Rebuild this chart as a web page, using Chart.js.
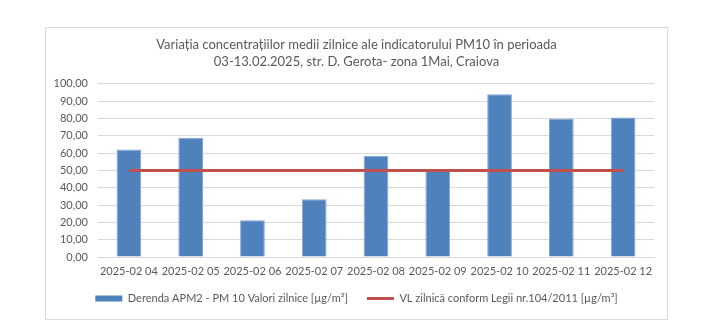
<!DOCTYPE html>
<html>
<head>
<meta charset="utf-8">
<script src="https://cdn.jsdelivr.net/npm/chart.js@4"></script>
<style>
    body { margin: 0; background: #fff; }
    #box {
        position: absolute;
        left: 45px; top: 27px;
        width: 621px; height: 291px;
        border: 1px solid #d9d9d9;
    }
</style>
</head>
<body>
<div id="box"><canvas id="pmChart"></canvas></div>
<script>
// Zilele perioadei de monitorizare
const zile = ['2025-02 04', '2025-02 05', '2025-02 06', '2025-02 07', '2025-02 08',
              '2025-02 09', '2025-02 10', '2025-02 11', '2025-02 12'];
// Concentratii medii zilnice PM10 [µg/m³]
const valoriPM10 = [62.1, 68.8, 21.2, 33.4, 58.4, 49.7, 93.9, 80.0, 80.6];
// Valoarea limita zilnica
const valoareLimita = [50, 50, 50, 50, 50, 50, 50, 50, 50];
const titlu = ['Variația concentrațiilor medii zilnice ale indicatorului PM10 în perioada',
               '03-13.02.2025, str. D. Gerota- zona 1Mai, Craiova'];

const font = "Lato, sans-serif";
const gri = '#595959';

document.addEventListener('DOMContentLoaded', function() {
    new Chart(document.getElementById('pmChart'), {
        type: 'bar',
        data: {
            labels: zile,
            datasets: [{
                label: 'Derenda APM2 - PM 10 Valori zilnice [µg/m³]',
                data: valoriPM10,
                backgroundColor: '#4f81bd',
                borderColor: '#86a6d3',
                borderWidth: 1,
                barPercentage: 0.4,
                categoryPercentage: 1,
                order: 1
            }, {
                type: 'line',
                label: 'VL zilnică conform Legii nr.104/2011 [µg/m³]',
                data: valoareLimita,
                borderColor: '#c0504d',
                backgroundColor: '#c0504d',
                borderWidth: 3,
                pointRadius: 0,
                order: 0
            }]
        },
        options: {
            responsive: true,
            maintainAspectRatio: false,
            animation: false,
            layout: { padding: { left: 0, right: 0, top: 0, bottom: 5 } },
            plugins: {
                title: {
                    display: true,
                    text: titlu,
                    color: gri,
                    font: { family: font, size: 13, weight: 'normal', lineHeight: 1.3 },
                    padding: { top: 8, bottom: 14 }
                },
                legend: {
                    position: 'bottom',
                    labels: {
                        color: gri,
                        font: { family: font, size: 11 },
                        usePointStyle: true,
                        boxHeight: 6,
                        pointStyleWidth: 27,
                        padding: 4,
                        // spatiu suplimentar dupa primul element al legendei
                        generateLabels: chart => chart.data.datasets.map((ds, i) => ({
                            text: i === 0 ? ds.label + '\u2003\u2002\u2009' : ds.label,
                            fillStyle: ds.backgroundColor,
                            strokeStyle: ds.type === 'line' ? ds.borderColor : ds.backgroundColor,
                            lineWidth: ds.type === 'line' ? 3 : 0,
                            pointStyle: ds.type === 'line' ? 'line' : 'rect',
                            fontColor: gri,
                            hidden: false,
                            datasetIndex: i
                        }))
                    }
                },
                tooltip: { enabled: false }
            },
            scales: {
                x: {
                    afterFit: s => { s.height = 32; },
                    grid: { display: false, drawTicks: false },
                    border: { color: '#d9d9d9' },
                    ticks: {
                        color: gri,
                        font: { family: font, size: 11 },
                        padding: 8,
                        maxRotation: 0
                    }
                },
                y: {
                    min: 0,
                    max: 100,
                    afterFit: s => { s.width = 52; },
                    grid: { color: '#d9d9d9', drawTicks: false },
                    border: { display: false },
                    ticks: {
                        stepSize: 10,
                        color: gri,
                        font: { family: font, size: 11 },
                        padding: 10,
                        callback: v => v.toFixed(2).replace('.', ',')
                    }
                },
                // axa goala din dreapta, doar pentru margine
                margine: {
                    position: 'right',
                    afterFit: s => { s.width = 13; },
                    grid: { display: false, drawTicks: false },
                    border: { display: false },
                    ticks: { display: false }
                }
            }
        }
    });
});
</script>
</body>
</html>
